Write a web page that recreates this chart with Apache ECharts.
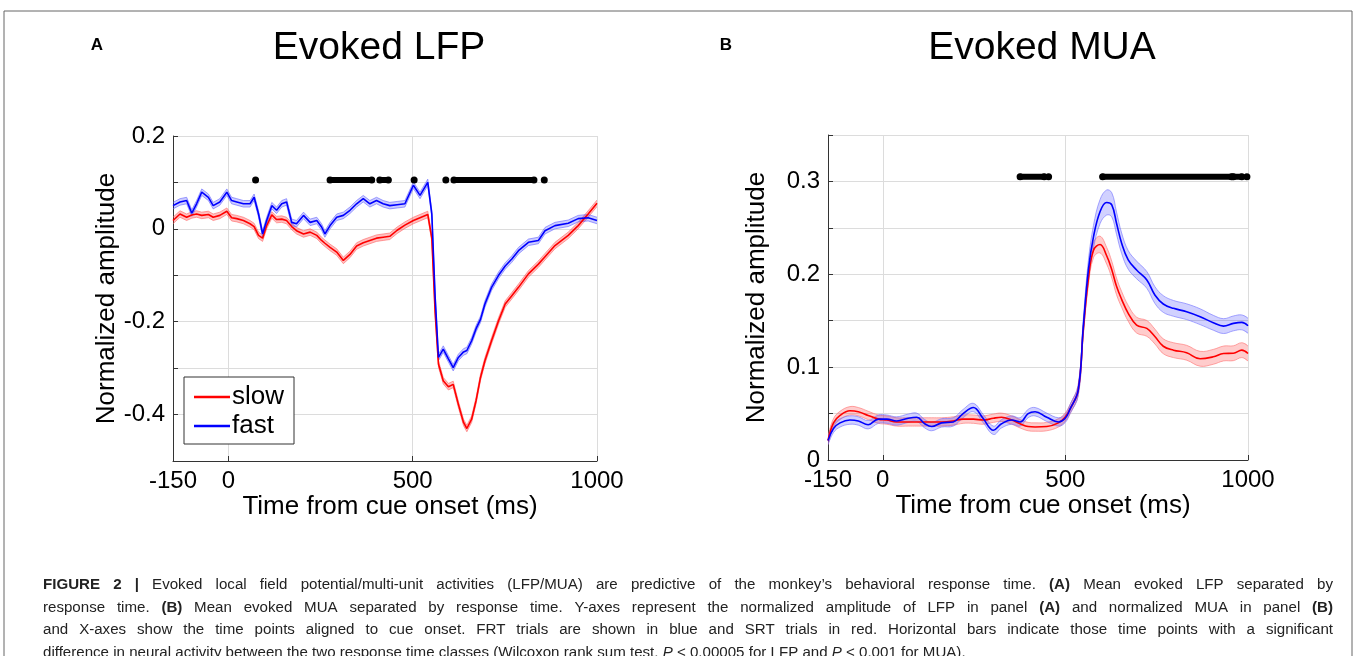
<!DOCTYPE html>
<html>
<head>
<meta charset="utf-8">
<title>Evoked LFP / MUA</title>
<script src="https://cdn.jsdelivr.net/npm/echarts@6/dist/echarts.min.js"></script>
<style>
html, body { margin: 0; padding: 0; background: #fff; }
#main { width: 1355px; height: 656px; }
</style>
</head>
<body>
<div id="main"></div>
<script>
// ---- Panel A: evoked LFP (time in ms, normalized amplitude) ----
var timeA = [-150, -131, -113, -99, -86, -72, -54, -41, -23, -4,
  9, 23, 41, 59, 70, 82, 93, 104, 118, 131,
  145, 158, 172, 185, 204, 222, 240, 253, 262, 276,
  294, 312, 330, 348, 366, 384, 402, 420, 438,
  458, 479, 502, 520, 541, 552, 561, 570, 583, 597, 610,
  624, 638, 647, 660, 672, 684, 696, 714, 733, 751,
  769, 787, 814, 841, 859, 886, 922, 949, 976, 1000];
var slowA = [0.018, 0.032, 0.025, 0.030, 0.032, 0.029, 0.031, 0.025, 0.029, 0.038,
  0.024, 0.022, 0.018, 0.011, 0.005, -0.014, -0.020, 0.007, 0.030, 0.020,
  0.021, 0.018, 0.005, -0.004, -0.011, -0.007, -0.014, -0.025, -0.031, -0.040,
  -0.050, -0.068, -0.055, -0.037, -0.030, -0.025, -0.020, -0.018, -0.016,
  -0.003, 0.008, 0.018, 0.024, 0.031, -0.020, -0.180, -0.291, -0.327, -0.340, -0.335,
  -0.378, -0.417, -0.430, -0.410, -0.370, -0.320, -0.284, -0.241, -0.198, -0.162,
  -0.144, -0.126, -0.097, -0.076, -0.060, -0.036, -0.014, 0.007, 0.032, 0.055];
var fastA = [0.050, 0.058, 0.061, 0.034, 0.054, 0.079, 0.068, 0.050, 0.058, 0.079,
  0.061, 0.058, 0.054, 0.054, 0.068, 0.032, -0.011, 0.018, 0.050, 0.040,
  0.054, 0.058, 0.014, 0.011, 0.029, 0.014, 0.018, 0.004, -0.011, 0.007,
  0.025, 0.029, 0.040, 0.054, 0.065, 0.054, 0.061, 0.054, 0.050,
  0.052, 0.054, 0.094, 0.072, 0.100, 0.032, -0.147, -0.277, -0.259, -0.280, -0.299,
  -0.277, -0.265, -0.262, -0.241, -0.215, -0.195, -0.162, -0.126, -0.100, -0.080,
  -0.065, -0.047, -0.029, -0.025, -0.004, 0.007, 0.012, 0.022, 0.024, 0.018];
var semA = 0.007;   // half width of the shaded band
// significant time ranges [start, end] in ms
var sigRunsA = [[74, 74], [276, 389], [411, 434], [504, 504], [590, 590], [612, 829], [857, 857]];
var sigLevelA = 0.105;

// ---- Panel B: evoked MUA ----
var timeB = [-150, -135, -117, -90, -67, -40, -12, 11, 38, 70,
  93, 115, 134, 161, 193, 220, 248, 275, 303, 325,
  353, 376, 398, 417, 449, 481, 499, 513, 535, 549,
  563, 577, 595, 613, 627, 640, 654, 672, 695, 723,
  745, 768, 796, 832, 869, 905, 933, 960, 983, 1000];
var slowB = [0.021, 0.040, 0.048, 0.053, 0.052, 0.048, 0.044, 0.043, 0.041, 0.041,
  0.041, 0.041, 0.041, 0.041, 0.042, 0.044, 0.044, 0.043, 0.045, 0.046,
  0.043, 0.039, 0.036, 0.0355, 0.036, 0.040, 0.046, 0.055, 0.075, 0.140,
  0.195, 0.226, 0.232, 0.220, 0.205, 0.187, 0.173, 0.158, 0.1453, 0.1417,
  0.133, 0.1225, 0.1183, 0.1155, 0.109, 0.1111, 0.1147, 0.115, 0.1183, 0.1147];
var fastB = [0.021, 0.034, 0.040, 0.043, 0.042, 0.038, 0.044, 0.044, 0.042, 0.045,
  0.046, 0.039, 0.036, 0.040, 0.041, 0.050, 0.0565, 0.0446, 0.032, 0.039,
  0.043, 0.041, 0.050, 0.052, 0.046, 0.041, 0.0446, 0.055, 0.075, 0.1435,
  0.205, 0.2406, 0.2676, 0.2773, 0.2748, 0.255, 0.2335, 0.2155, 0.2047, 0.1939,
  0.1777, 0.168, 0.1633, 0.1597, 0.1543, 0.1478, 0.1442, 0.1471, 0.1482, 0.1446];
var semSlowB = [0.0045, 0.0045, 0.0045, 0.0045, 0.0045, 0.0045, 0.0045, 0.0045, 0.0045, 0.0045,
  0.0045, 0.0045, 0.0045, 0.0045, 0.0045, 0.0045, 0.0045, 0.0045, 0.0045, 0.0045,
  0.0045, 0.0045, 0.0045, 0.0045, 0.0045, 0.0045, 0.0045, 0.005, 0.0055, 0.006,
  0.007, 0.008, 0.009, 0.009, 0.009, 0.009, 0.0085, 0.0085, 0.0085, 0.0085,
  0.008, 0.008, 0.008, 0.008, 0.008, 0.008, 0.008, 0.008, 0.008, 0.008];
var semFastB = [0.0045, 0.0045, 0.0045, 0.0045, 0.0045, 0.0045, 0.0045, 0.0045, 0.0045, 0.0045,
  0.0045, 0.0045, 0.0045, 0.0045, 0.0045, 0.0045, 0.0045, 0.0045, 0.0045, 0.0045,
  0.0045, 0.0045, 0.0045, 0.0045, 0.0045, 0.0045, 0.0045, 0.005, 0.006, 0.008,
  0.010, 0.012, 0.013, 0.0135, 0.013, 0.012, 0.011, 0.010, 0.0095, 0.009,
  0.009, 0.009, 0.0085, 0.0085, 0.0085, 0.008, 0.008, 0.008, 0.008, 0.008];
var sigRunsB = [[376, 442], [454, 454], [602, 955], [960, 983], [997, 997]];
var sigLevelB = 0.305;

var xTicks = [-150, 0, 500, 1000];

var captionLines = [
  '{b|FIGURE 2 |} Evoked local field potential/multi-unit activities (LFP/MUA) are predictive of the monkey\u2019s behavioral response time. {b|(A)} Mean evoked LFP separated by',
  'response time. {b|(B)} Mean evoked MUA separated by response time. Y-axes represent the normalized amplitude of LFP in panel {b|(A)} and normalized MUA in panel {b|(B)}',
  'and X-axes show the time points aligned to cue onset. FRT trials are shown in blue and SRT trials in red. Horizontal bars indicate those time points with a significant',
  'difference in neural activity between the two response time classes (Wilcoxon rank sum test, {i|P} < 0.00005 for LFP and {i|P} < 0.001 for MUA).'
];

var FONT = '"Liberation Sans", Arial, Helvetica, sans-serif';
var CAP_FONT = '"Liberation Sans Narrow", "Liberation Sans", Arial, sans-serif';
var RED = '#ff0000', BLUE = '#0000ff';
var CAP_LEFT = 43, CAP_RIGHT = 1333, CAP_LAST_RIGHT = 966;
var capY = [585, 607.5, 630, 652.5];

var myChart = echarts.init(document.getElementById('main'));

// shaded band (mean +/- sem) drawn as one polygon through the axis scales
function bandSeries(key, t, mean, sem, fill, edge, gi, smooth) {
  var rows = [];
  for (var i = 0; i < t.length; i++) {
    var s = Array.isArray(sem) ? sem[i] : sem;
    rows.push([t[i], mean[i] - s, mean[i] + s]);
  }
  return {
    name: key, type: 'custom', xAxisIndex: gi, yAxisIndex: gi, silent: true, clip: true,
    data: rows, encode: { x: 0, y: [1, 2] },
    renderItem: function (params, api) {
      if (params.dataIndex !== 0) return null;
      var up = [], lo = [];
      rows.forEach(function (r) {
        up.push(api.coord([r[0], r[2]]));
        lo.push(api.coord([r[0], r[1]]));
      });
      var loRev = lo.slice().reverse();
      return {
        type: 'group',
        children: [
          { type: 'polygon', shape: { points: up.concat(loRev), smooth: smooth }, style: { fill: fill, stroke: null } },
          { type: 'polyline', shape: { points: up, smooth: smooth }, style: { stroke: edge, lineWidth: 1, fill: null } },
          { type: 'polyline', shape: { points: lo, smooth: smooth }, style: { stroke: edge, lineWidth: 1, fill: null } }
        ]
      };
    }
  };
}

function meanLine(name, t, mean, color, gi, smooth) {
  return {
    name: name, type: 'line', xAxisIndex: gi, yAxisIndex: gi,
    data: t.map(function (x, i) { return [x, mean[i]]; }),
    symbol: 'none', smooth: smooth, color: color, silent: true,
    lineStyle: { color: color, width: 1.6 }, itemStyle: { color: color }
  };
}

function sigSeries(runs, level, gi) {
  var d = [];
  runs.forEach(function (r, i) {
    if (i > 0) d.push(['-', '-']);
    d.push([r[0], level]);
    if (r[1] !== r[0]) d.push([r[1], level]);
  });
  return {
    name: 'sig' + gi, type: 'line', xAxisIndex: gi, yAxisIndex: gi, data: d,
    showSymbol: true, symbol: 'circle', symbolSize: 7, connectNulls: false,
    lineStyle: { color: '#000', width: 6, cap: 'round' }, itemStyle: { color: '#000' },
    silent: true, z: 5
  };
}

function xAxisCfg(gi) {
  return {
    gridIndex: gi, type: 'value', min: -150, max: 1000,
    name: 'Time from cue onset (ms)', nameLocation: 'middle', nameGap: 32,
    nameTextStyle: { fontSize: 26, color: '#000', fontFamily: FONT, padding: [0, 0, 0, 10] },
    axisLine: { show: true, onZero: false, lineStyle: { color: '#333', width: 1 } },
    axisTick: { show: true, inside: true, length: 5, customValues: xTicks, lineStyle: { color: '#333' } },
    axisLabel: { customValues: xTicks, fontSize: 24, color: '#000', margin: 8, fontFamily: FONT,
      formatter: function (v) { return String(v); } },
    splitLine: { show: true, lineStyle: { color: '#dcdcdc', width: 1 } }
  };
}

function yAxisCfg(gi, min, max, step, labelStep, gap) {
  return {
    gridIndex: gi, type: 'value', min: min, max: max, interval: step,
    name: 'Normalized amplitude', nameLocation: 'middle', nameGap: gap,
    nameTextStyle: { fontSize: 26, color: '#000', fontFamily: FONT },
    axisLine: { show: true, onZero: false, lineStyle: { color: '#333', width: 1 } },
    axisTick: { show: true, inside: true, length: 5, lineStyle: { color: '#333' } },
    axisLabel: {
      fontSize: 24, color: '#000', margin: 8, fontFamily: FONT,
      formatter: function (v) {
        var k = Math.round(v / labelStep);
        if (Math.abs(v - k * labelStep) > 1e-6) return '';
        if (v < min + 1e-6 && min < 0) return '';
        return String(Math.round(v * 100) / 100);
      }
    },
    splitLine: { show: true, lineStyle: { color: '#dcdcdc', width: 1 } }
  };
}

var series = [
  bandSeries('slowA-band', timeA, slowA, semA, 'rgba(255,0,0,0.25)', 'rgba(255,100,100,0.6)', 0, 0),
  bandSeries('fastA-band', timeA, fastA, semA, 'rgba(0,0,255,0.2)', 'rgba(100,100,255,0.6)', 0, 0),
  meanLine('slow', timeA, slowA, RED, 0, false),
  meanLine('fast', timeA, fastA, BLUE, 0, false),
  bandSeries('slowB-band', timeB, slowB, semSlowB, 'rgba(255,0,0,0.2)', 'rgba(255,120,120,0.65)', 1, 0.4),
  meanLine('slow', timeB, slowB, RED, 1, 0.4),
  bandSeries('fastB-band', timeB, fastB, semFastB, 'rgba(0,0,255,0.18)', 'rgba(120,120,255,0.65)', 1, 0.4),
  meanLine('fast', timeB, fastB, BLUE, 1, 0.4),
  sigSeries(sigRunsA, sigLevelA, 0),
  sigSeries(sigRunsB, sigLevelB, 1)
];

var graphics = [
  { type: 'polyline', shape: { points: [[4, 660], [4, 11], [1352, 11], [1352, 660]] },
    style: { stroke: '#666', lineWidth: 1, fill: null }, silent: true },
  { type: 'text', x: 97, y: 45, style: { text: 'A', font: 'bold 17px ' + FONT, fill: '#000', align: 'center', verticalAlign: 'middle' } },
  { type: 'text', x: 726, y: 45, style: { text: 'B', font: 'bold 17px ' + FONT, fill: '#000', align: 'center', verticalAlign: 'middle' } },
  { type: 'text', x: 379, y: 48, style: { text: 'Evoked LFP', font: '39px ' + FONT, fill: '#000', align: 'center', verticalAlign: 'middle' } },
  { type: 'text', x: 1042, y: 48, style: { text: 'Evoked MUA', font: '39px ' + FONT, fill: '#000', align: 'center', verticalAlign: 'middle' } }
];

// caption: justified lines, one text element per word
var measureCtx = document.createElement('canvas').getContext('2d');
var CAP = 16;
function pieceFont(s, size) {
  return (s === 'b' ? 'bold ' : s === 'i' ? 'italic ' : '') + size + 'px ' + CAP_FONT;
}
function pieceWidth(p, size) {
  measureCtx.font = pieceFont(p.s, size || CAP);
  return measureCtx.measureText(p.t).width;
}
function splitWords(line) {
  var re = /\{(\w)\|([^}]*)\}|([^{]+)/g, m, pieces = [], words = [], word = [];
  while ((m = re.exec(line))) {
    pieces.push(m[3] !== undefined ? { s: '', t: m[3] } : { s: m[1], t: m[2] });
  }
  pieces.forEach(function (p) {
    p.t.split(' ').forEach(function (part, k) {
      if (k > 0 && word.length) { words.push(word); word = []; }
      if (part) word.push({ s: p.s, t: part });
    });
  });
  if (word.length) words.push(word);
  return words;
}
function lineWidth(words, size) {
  var sp = pieceWidth({ s: '', t: ' ' }, size), w = sp * (words.length - 1);
  words.forEach(function (wd) { wd.forEach(function (p) { w += pieceWidth(p, size); }); });
  return w;
}
// size the caption font so the last (unjustified) line ends where it does in the figure
var capWords = captionLines.map(splitWords);
CAP = Math.round(20 * (CAP_LAST_RIGHT - CAP_LEFT) / lineWidth(capWords[capWords.length - 1], 20) * 10) / 10;

var capRich = {
  b: { fontWeight: 'bold', fontSize: CAP, fontFamily: CAP_FONT, fill: '#222' },
  i: { fontStyle: 'italic', fontSize: CAP, fontFamily: CAP_FONT, fill: '#222' }
};
capWords.forEach(function (words, li) {
  var widths = words.map(function (w) {
    return w.reduce(function (a, p) { return a + pieceWidth(p); }, 0);
  });
  var total = widths.reduce(function (a, b) { return a + b; }, 0);
  var last = li === capWords.length - 1;
  var gap = last ? pieceWidth({ s: '', t: ' ' }) : (CAP_RIGHT - CAP_LEFT - total) / (words.length - 1);
  var x = CAP_LEFT;
  words.forEach(function (w, k) {
    graphics.push({
      type: 'text', x: x, y: capY[li], silent: true,
      style: {
        text: w.map(function (p) { return p.s ? '{' + p.s + '|' + p.t + '}' : p.t; }).join(''),
        fontSize: CAP, fontFamily: CAP_FONT, fill: '#222', align: 'left', verticalAlign: 'middle',
        rich: capRich
      }
    });
    x += widths[k] + gap;
  });
});

var option = {
  backgroundColor: '#fff',
  animation: false,
  grid: [
    { left: 173, top: 136, width: 424, height: 325, containLabel: false, outerBoundsMode: 'none' },
    { left: 828, top: 135, width: 420, height: 325, containLabel: false, outerBoundsMode: 'none' }
  ],
  xAxis: [xAxisCfg(0), xAxisCfg(1)],
  yAxis: [yAxisCfg(0, -0.5, 0.2, 0.1, 0.2, 46), yAxisCfg(1, 0, 0.35, 0.05, 0.1, 58)],
  legend: {
    data: ['slow', 'fast'], orient: 'vertical', left: 184, top: 377,
    backgroundColor: '#fff', borderColor: '#333', borderWidth: 1,
    padding: [7, 10, 5, 10], itemGap: 3, itemWidth: 36, itemHeight: 2.5, icon: 'rect',
    textStyle: { fontSize: 26, color: '#000', fontFamily: FONT, padding: [0, 0, 0, -3] },
    selectedMode: false
  },
  graphic: graphics,
  series: series
};

myChart.setOption(option);
</script>
</body>
</html>
